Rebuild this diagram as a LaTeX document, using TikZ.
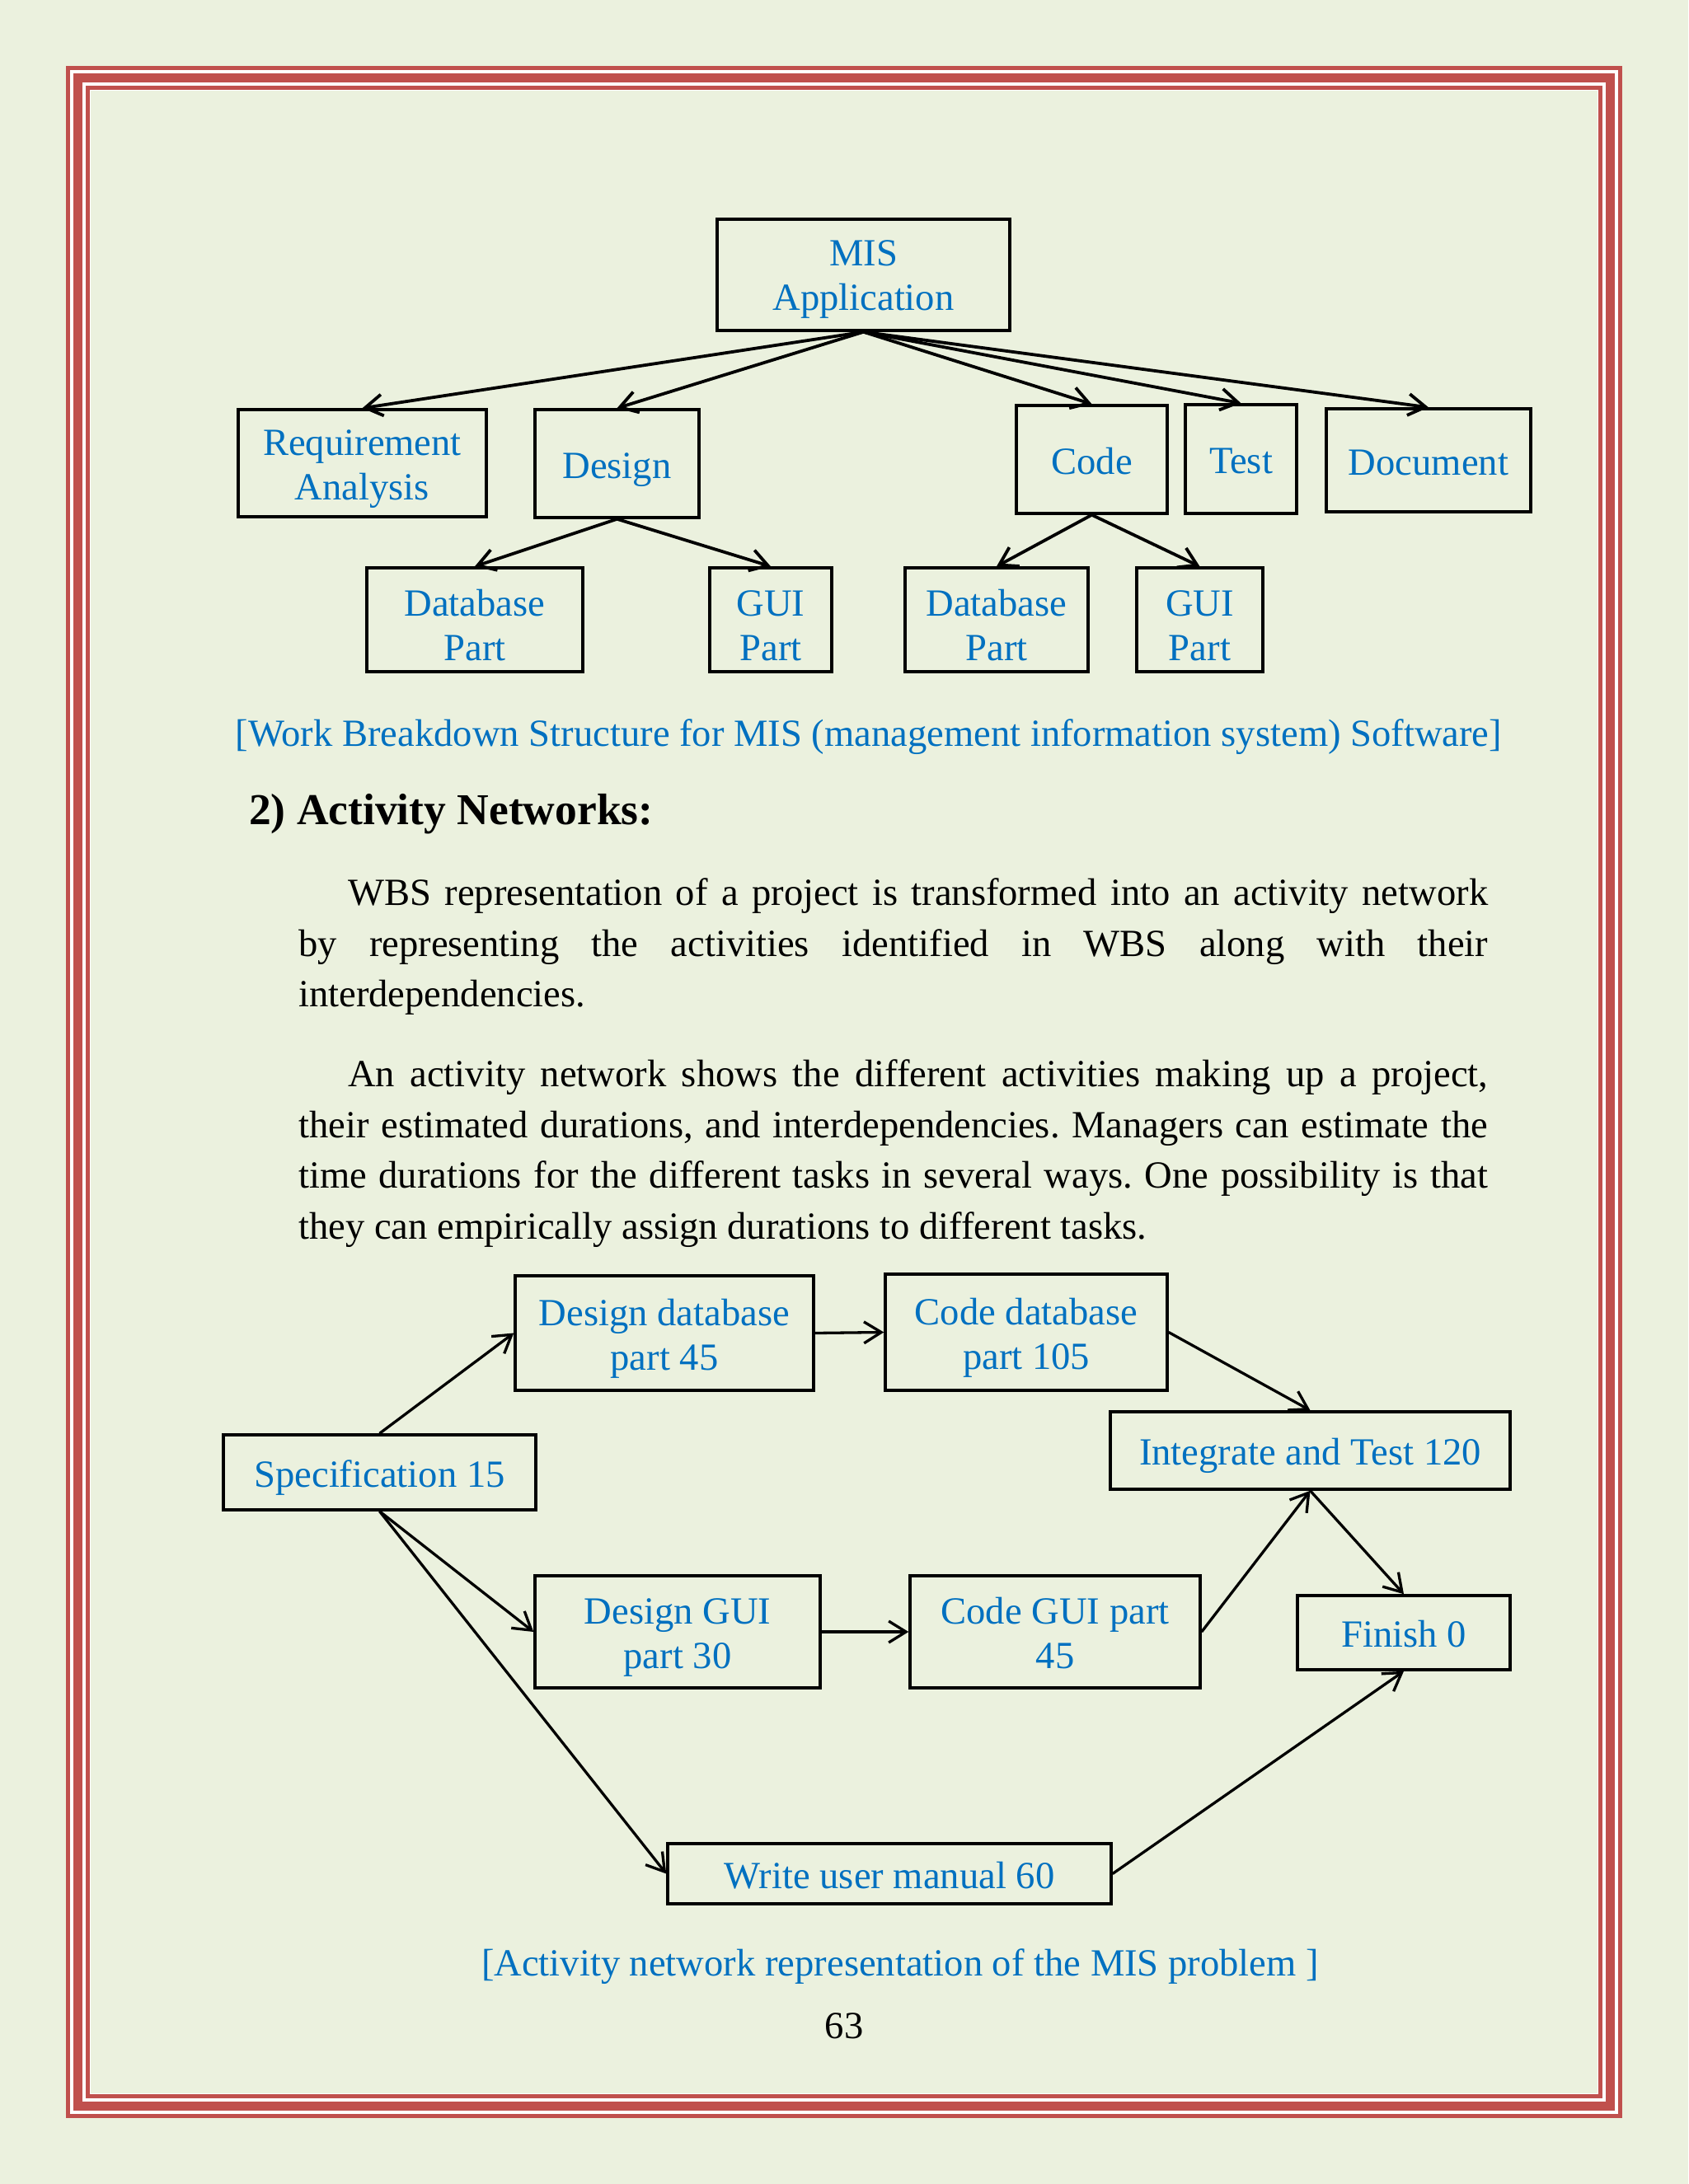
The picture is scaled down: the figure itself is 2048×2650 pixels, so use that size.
\documentclass[tikz,border=0pt]{standalone}
\usepackage{fontspec}
\setmainfont{Liberation Serif}
\usetikzlibrary{arrows.meta}
\definecolor{bg}{RGB}{235,241,222}
\definecolor{framered}{RGB}{192,80,77}
\definecolor{txtblue}{RGB}{0,112,192}
\newcommand{\bxt}[2][7pt]{\raisebox{-#1}[\height][\depth]{\begin{tabular}{@{}c@{}}#2\end{tabular}}}
\frenchspacing
\begin{document}
\begin{tikzpicture}[x=1pt,y=-1pt,
  bx/.style={draw=black, line width=3.5pt, text=txtblue, inner sep=0pt,
    font=\fontsize{46.6}{54}\selectfont},
  arr/.style={line width=3.3pt, -{Straight Barb[length=21pt,width=26pt]}},
  warr/.style={arr, line width=3.8pt},
  body/.style={anchor=base west, inner sep=0pt, font=\fontsize{46.6}{61.6}\selectfont},
  captxt/.style={anchor=base, inner sep=0pt, text=txtblue, font=\fontsize{46.6}{61.6}\selectfont}]
\useasboundingbox (0,0) rectangle (2048,2650);
\fill[bg] (0,0) rectangle (2048,2650);
% frame
\draw[white, line width=30pt] (95,95) rectangle (1953,2555);
\draw[framered, line width=5pt] (82.5,82.5) rectangle (1965.5,2567.5);
\draw[framered, line width=10.5pt] (94.5,94.5) rectangle (1953.5,2555.5);
\draw[framered, line width=5pt] (106.5,106.5) rectangle (1941.5,2543.5);

% WBS
\node[bx, minimum width=355pt, minimum height=135pt] (mis) at (1047.5,333.5) {\bxt[5.5pt]{MIS\\Application}};
\node[bx, minimum width=301pt, minimum height=130pt] (req) at (439.5,562) {\bxt{Requirement\\Analysis}};
\node[bx, minimum width=199pt, minimum height=131pt] (des) at (748.5,562.5) {\bxt{Design}};
\node[bx, minimum width=183pt, minimum height=131pt] (code) at (1324.5,557.5) {\bxt{Code}};
\node[bx, minimum width=135pt, minimum height=132pt] (test) at (1505.5,557) {\bxt{Test}};
\node[bx, minimum width=248pt, minimum height=125pt] (doc) at (1733,558.5) {\bxt{Document}};
\node[bx, minimum width=262pt, minimum height=126pt] (dba) at (576,752) {\bxt[12pt]{Database\\Part}};
\node[bx, minimum width=148pt, minimum height=126pt] (guia) at (935,752) {\bxt[12pt]{GUI\\Part}};
\node[bx, minimum width=222pt, minimum height=126pt] (dbb) at (1209,752) {\bxt[12pt]{Database\\Part}};
\node[bx, minimum width=153pt, minimum height=126pt] (guib) at (1455.5,752) {\bxt[12pt]{GUI\\Part}};

\draw[warr] (mis.south) -- (req.north);
\draw[warr] (mis.south) -- (des.north);
\draw[warr] (mis.south) -- (code.north);
\draw[warr] (mis.south) -- (test.north);
\draw[warr] (mis.south) -- (doc.north);
\draw[warr] (des.south) -- (dba.north);
\draw[warr] (des.south) -- (guia.north);
\draw[warr] (code.south) -- (dbb.north);
\draw[warr] (code.south) -- (guib.north);

\node[captxt] (cap1) at (1054,905) {[Work Breakdown Structure for MIS (management information system) Software]};

% heading and body
\node[anchor=base west, inner sep=0pt, font=\fontsize{53.5}{64}\selectfont\bfseries] (head) at (302,1000) {2) Activity Networks:};
\node[body] (l1) at (362,1098) {\makebox[1443pt][s]{\hspace*{60pt}WBS representation of a project is transformed into an activity network}};
\node[body] (l2) at (362,1160) {\makebox[1443pt][s]{by representing the activities identified in WBS along with their}};
\node[body] (l3) at (362,1221) {interdependencies.};
\node[body] (l4) at (362,1318) {\makebox[1443pt][s]{\hspace*{60pt}An activity network shows the different activities making up a project,}};
\node[body] (l5) at (362,1380) {\makebox[1443pt][s]{their estimated durations, and interdependencies. Managers can estimate the}};
\node[body] (l6) at (362,1441) {\makebox[1443pt][s]{time durations for the different tasks in several ways. One possibility is that}};
\node[body] (l7) at (362,1503) {they can empirically assign durations to different tasks.};

% Activity network
\node[bx, minimum width=379pt, minimum height=91pt] (spec) at (460.5,1786.5) {\bxt{Specification 15}};
\node[bx, minimum width=362pt, minimum height=139pt] (ddb) at (806,1617.5) {\bxt{Design database\\part 45}};
\node[bx, minimum width=342pt, minimum height=141pt] (cdb) at (1245,1616.5) {\bxt{Code database\\part 105}};
\node[bx, minimum width=485pt, minimum height=94pt] (it) at (1589.5,1760) {\bxt{Integrate and Test 120}};
\node[bx, minimum width=346pt, minimum height=136pt] (dgui) at (822,1980) {\bxt{Design GUI\\part 30}};
\node[bx, minimum width=352pt, minimum height=136pt] (cgui) at (1280,1980) {\bxt{Code GUI part\\45}};
\node[bx, minimum width=258pt, minimum height=90pt] (fin) at (1703,1981) {\bxt{Finish 0}};
\node[bx, minimum width=538pt, minimum height=73pt] (wum) at (1079,2273.5) {\bxt{Write user manual 60}};

\draw[arr] (spec.north) -- (ddb.west);
\draw[arr] (ddb.east) -- (cdb.west);
\draw[arr] (cdb.east) -- (it.north);
\draw[arr] (spec.south) -- (dgui.west);
\draw[arr] (spec.south) -- (wum.west);
\draw[arr] (dgui.east) -- (cgui.west);
\draw[arr] (cgui.east) -- (it.south);
\draw[arr] (it.south) -- (fin.north);
\draw[arr] (wum.east) -- (fin.south);

\node[captxt] (cap2) at (1092,2397) {[Activity network representation of the MIS problem ]};
\node[anchor=base, inner sep=0pt, font=\fontsize{46.6}{61.6}\selectfont] (pnum) at (1024,2473) {63};
\end{tikzpicture}
\end{document}
